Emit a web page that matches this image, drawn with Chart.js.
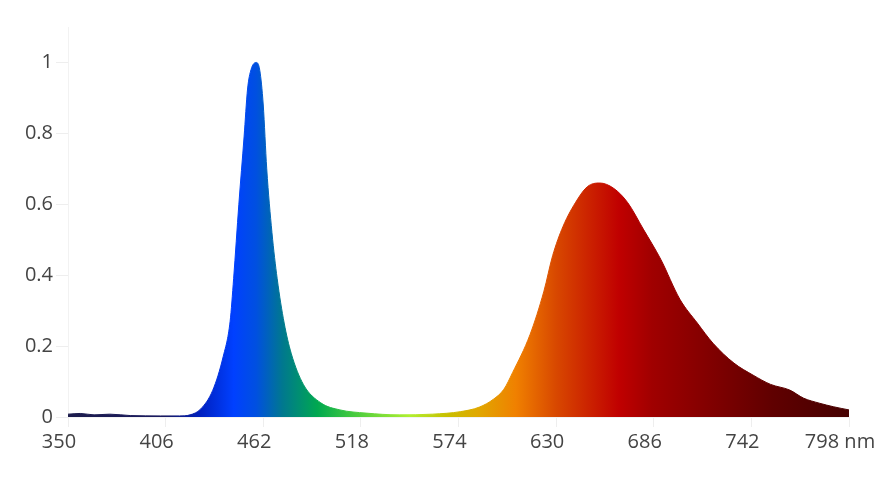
<!DOCTYPE html>
<html>
<head>
<meta charset="utf-8">
<script src="https://cdn.jsdelivr.net/npm/chart.js@4/dist/chart.umd.min.js"></script>
<style>
    body { margin: 0; background: #fff; }
    canvas { display: block; }
</style>
</head>
<body>
<canvas id="spectrumChart" width="889" height="489"></canvas>
<script>
// spectrum data (nm, relative intensity)
const wavelengths = [350, 357, 365, 374, 386, 403, 414, 420, 426, 433, 439, 443, 445, 448, 451, 453, 455, 458, 460, 462, 464, 467, 470, 474, 478, 485, 495, 506, 521, 540, 559, 575, 586, 594, 600, 605, 615, 623, 628, 634, 642, 648, 655, 663, 671, 680, 690, 701, 711, 720, 732, 743, 753, 764, 772, 781, 789, 798];
const intensity = [0.008, 0.01, 0.006, 0.008, 0.004, 0.003, 0.003, 0.006, 0.022, 0.075, 0.17, 0.27, 0.39, 0.6, 0.79, 0.925, 0.98, 1.0, 0.978, 0.88, 0.7, 0.52, 0.39, 0.265, 0.18, 0.092, 0.04, 0.02, 0.011, 0.006, 0.008, 0.015, 0.028, 0.05, 0.078, 0.125, 0.232, 0.355, 0.455, 0.538, 0.612, 0.65, 0.66, 0.645, 0.605, 0.53, 0.445, 0.332, 0.265, 0.208, 0.152, 0.118, 0.092, 0.076, 0.053, 0.039, 0.029, 0.02];

const xTicks = [350, 406, 462, 518, 574, 630, 686, 742, 798];
const yTicks = [0, 0.2, 0.4, 0.6, 0.8, 1];

// colour of the fill along the wavelength axis
const stopNm = [350, 405, 426, 445, 458, 473, 493, 512, 546, 567, 585, 607, 630, 666, 685, 754, 798];
const stopColor = ["#1c1c4c", "#1a1a60", "#0020c0", "#0040ff", "#0050e0", "#00788f", "#00a850", "#40c840", "#b0f030", "#c8c000", "#e0a800", "#f08000", "#d84800", "#c00000", "#a00000", "#600000", "#450000"];

function spectrumGradient(context) {
    const chart = context.chart;
    const area = chart.chartArea;
    if (!area) return "#c00000";
    const x = chart.scales.x;
    const x0 = x.getPixelForValue(350);
    const x1 = x.getPixelForValue(798);
    const g = chart.ctx.createLinearGradient(x0, 0, x1, 0);
    stopNm.forEach(function (nm, i) {
        g.addColorStop((nm - 350) / (798 - 350), stopColor[i]);
    });
    return g;
}

new Chart(document.getElementById("spectrumChart"), {
    type: "line",
    data: {
        datasets: [{
            data: wavelengths.map(function (w, i) { return { x: w, y: intensity[i] }; }),
            backgroundColor: spectrumGradient,
            borderColor: spectrumGradient,
            borderWidth: 1,
            fill: "origin",
            cubicInterpolationMode: "monotone",
            pointRadius: 0
        }]
    },
    options: {
        responsive: false,
        animation: false,
        layout: { padding: { left: 10, right: 40, top: 27, bottom: 0 } },
        plugins: { legend: { display: false }, tooltip: { enabled: false } },
        scales: {
            x: {
                type: "linear",
                min: xTicks[0],
                max: xTicks[xTicks.length - 1],
                afterFit: function (scale) { scale.height = 72; },
                afterBuildTicks: function (scale) {
                    scale.ticks = xTicks.map(function (v) { return { value: v }; });
                },
                grid: { drawOnChartArea: false, color: "#eeeeee", tickLength: 10 },
                border: { color: "#f2f2f2" },
                ticks: {
                    color: "#444444",
                    padding: 3,
                    labelOffset: -9,
                    maxRotation: 0,
                    font: { family: "'Open Sans'", size: 20 },
                    callback: function (v) { return v === 798 ? v + " nm" : v; }
                }
            },
            y: {
                min: 0,
                max: 1.1,
                afterFit: function (scale) { scale.width = 58; },
                afterBuildTicks: function (scale) {
                    scale.ticks = yTicks.map(function (v) { return { value: v }; });
                },
                grid: { drawOnChartArea: false, color: "#eeeeee", tickLength: 12 },
                border: { color: "#f2f2f2" },
                ticks: {
                    color: "#444444",
                    padding: 3,
                    font: { family: "'Open Sans'", size: 20 },
                    callback: function (v) { return String(+v.toFixed(1)); }
                }
            }
        }
    }
});
</script>
</body>
</html>
